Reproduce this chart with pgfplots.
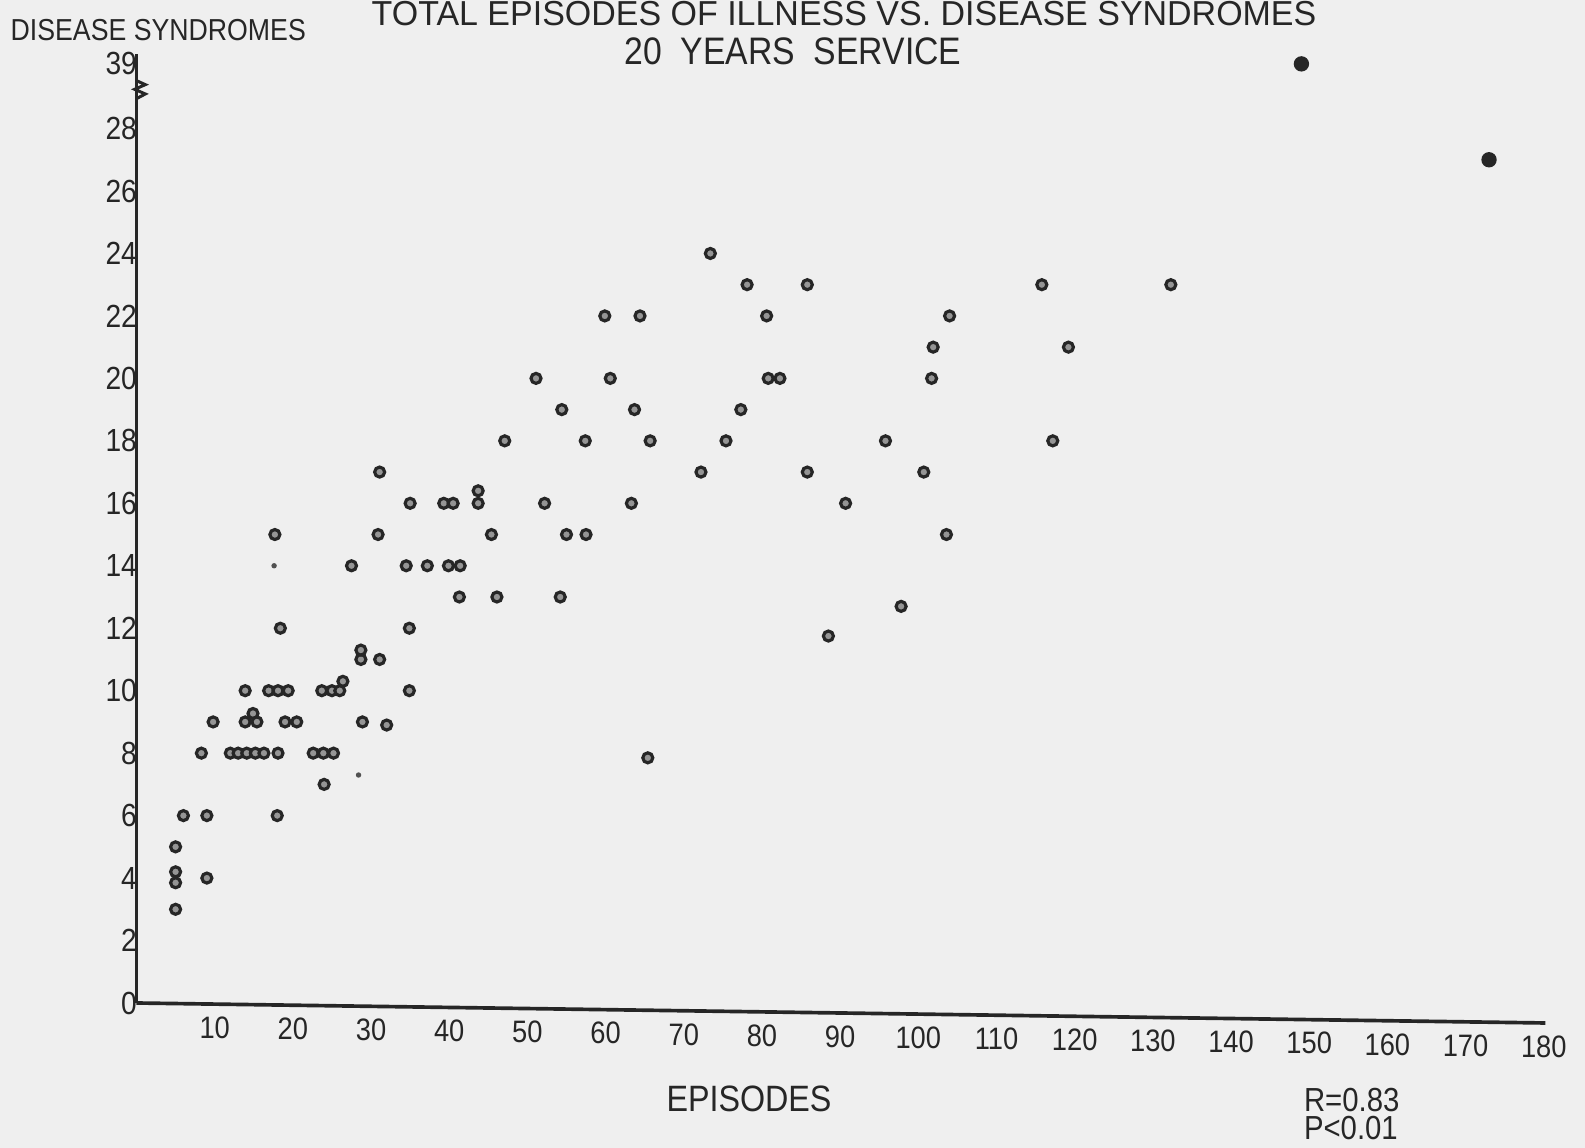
\documentclass[border=0pt]{standalone}
\usepackage{fontspec}
\setmainfont{Liberation Sans}[FakeStretch=0.88]
\newfontfamily\widefont{Liberation Sans}[FakeStretch=0.98]
\usepackage{pgfplots}
\pgfplotsset{compat=1.18}
\definecolor{paper}{HTML}{EFEFEF}
\definecolor{ink}{HTML}{262626}
\begin{document}
\begin{tikzpicture}[x=1pt,y=1pt]
\useasboundingbox (0,0) rectangle (475.5,344.4);
\fill[paper] (0,0) rectangle (475.5,344.4);
\begin{axis}[
  at={(40.95pt,43.5pt)}, anchor=south west,
  scale only axis,
  x=2.3454pt, y=9.369pt,
  xmin=0, xmax=180.2, ymin=0, ymax=40.75,
  % the scale is broken above 28 so that the two large values fit
  y coord trafo/.code={\pgfmathparse{ifthenelse(#1>28, 28+(#1-28)*0.1882, #1)}},
  axis x line*=bottom, axis y line*=left,
  axis line style={draw=ink, line width=1.1pt, -},
  x axis line style={draw=none},
  tick style={draw=none}, major tick length=0pt,
  xtick={10,20,...,180},
  % the hand-drawn baseline falls slightly to the right; labels follow it
  xticklabel={\pgfmathsetmacro{\dy}{-0.0333*\tick}\raisebox{\dy pt}[\height][\depth]{\pgfmathprintnumber{\tick}}},
  ytick={0,2,4,6,8,10,12,14,16,18,20,22,24,26,28,39},
  yticklabels={0,2,4,6,8,10,12,14,16,18,20,22,24,26,28,39},
  /pgf/number format/assume math mode=true,
  xticklabel style={font=\fontsize{9.3}{11}\selectfont, text=ink, anchor=north, inner sep=0pt, yshift=-3.6pt},
  yticklabel style={font=\fontsize{9.6}{11}\selectfont, text=ink, anchor=east, inner sep=0pt, xshift=0.3pt},
  clip=false,
]
\draw[ink, line width=1.1pt] (axis cs:0,0) -- (axis cs:180.2,-0.64);
% episodes vs. disease syndromes, one mark per person
\addplot[only marks, mark=*, mark size=1.5pt,
  mark options={draw=ink, fill=ink!45!paper, line width=0.95pt}] table {
x y
5 3
5 3.85
5 4.2
9 4
5 5
6 6
9 6
18 6
24 7
65.4 7.85
8.3 8
12 8
13 8
14.1 8
15.2 8
16.3 8
18.1 8
22.6 8
23.9 8
25.2 8
9.8 9
13.9 9
14.9 9.27
15.4 9
19 9
20.5 9
28.9 9
32 8.9
13.9 10
16.9 10
18.1 10
19.4 10
23.7 10
25 10
26 10
26.4 10.3
34.9 10
28.7 11
28.7 11.3
31.1 11
88.5 11.75
18.4 12
34.9 12
97.8 12.7
41.3 13
46.1 13
54.2 13
27.5 14
34.5 14
37.2 14
39.9 14
41.4 14
17.7 15
30.9 15
45.4 15
55 15
57.5 15
103.6 15
35 16
39.3 16
40.5 16
43.7 16
43.7 16.4
52.2 16
63.3 16
90.7 16
31.1 17
72.2 17
85.8 17
100.7 17
47.1 18
57.4 18
65.7 18
75.4 18
95.8 18
117.2 18
54.4 19
63.7 19
77.3 19
51.1 20
60.6 20
80.8 20
82.3 20
101.7 20
101.9 21
119.2 21
59.9 22
64.4 22
80.6 22
104 22
78.1 23
85.8 23
115.8 23
132.3 23
73.4 24
};
% the two largest totals
\addplot[only marks, mark=*, mark size=2.1pt,
  mark options={draw=ink, fill=ink}] table {
x y
149 39
173 27
};
% faint entries
\addplot[only marks, mark=*, mark size=0.6pt,
  mark options={draw=ink!80, fill=ink!80}] table {
x y
17.6 14
28.4 7.3
};
\end{axis}
% break mark on the vertical axis
\draw[ink, line width=0.9pt] (40.95,320.2) -- (43.6,319.0) -- (40.4,317.6) -- (43.6,316.2) -- (40.95,314.8);
\node[anchor=base, inner sep=0pt, text=ink, font=\widefont\fontsize{10.4}{12}\selectfont] at (253.2,336.7)
  {TOTAL EPISODES OF ILLNESS VS. DISEASE SYNDROMES};
\node[anchor=base, inner sep=0pt, text=ink, font=\fontsize{11.5}{14}\selectfont] at (237.9,325)
  {20\ \ YEARS\ \ SERVICE};
\node[anchor=base west, inner sep=0pt, text=ink, font=\fontsize{9.1}{10}\selectfont] at (3,332.1)
  {DISEASE SYNDROMES};
\node[anchor=base, text=ink, font=\fontsize{11}{13}\selectfont] at (224.7,11)
  {EPISODES};
\node[anchor=base west, inner sep=0pt, text=ink, font=\fontsize{10}{11}\selectfont] at (391,10.9)
  {R=0.83};
\node[anchor=base west, inner sep=0pt, text=ink, font=\fontsize{10}{11}\selectfont] at (391,2.4)
  {P<0.01};
\end{tikzpicture}
\end{document}
